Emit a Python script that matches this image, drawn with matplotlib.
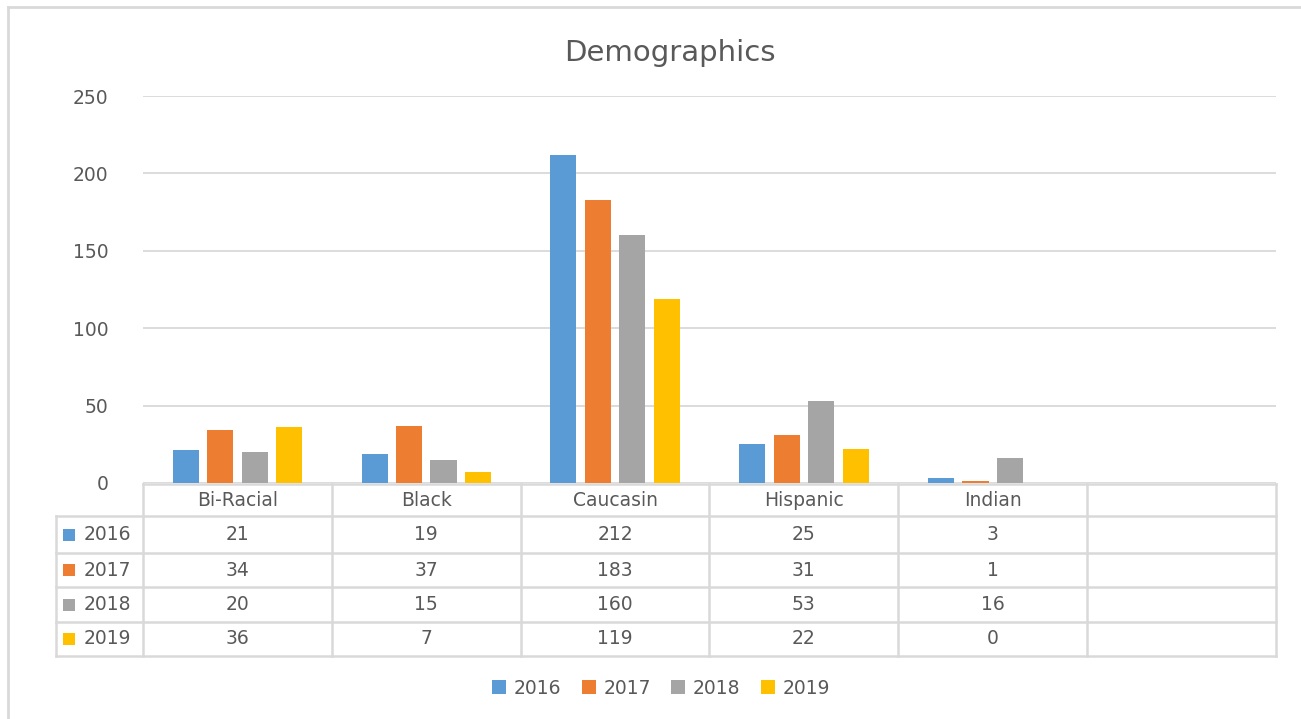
import matplotlib.pyplot as plt
import matplotlib.patches as patches
from matplotlib.lines import Line2D
from matplotlib.transforms import blended_transform_factory
import numpy as np

# Chart data
categories = ['Bi-Racial', 'Black', 'Caucasin', 'Hispanic', 'Indian', '']
years = ['2016', '2017', '2018', '2019']
values_2016 = [21, 19, 212, 25, 3]
values_2017 = [34, 37, 183, 31, 1]
values_2018 = [20, 15, 160, 53, 16]
values_2019 = [36, 7, 119, 22, 0]
y_ticks = [0, 50, 100, 150, 200, 250]

series = [values_2016, values_2017, values_2018, values_2019]
colors = ['#5B9BD5', '#ED7D31', '#A5A5A5', '#FFC000']
TEXT = '#595959'
GRID = '#D9D9D9'

W, H = 1301, 719
plt.rcParams['font.family'] = ['DejaVu Sans']

fig = plt.figure(figsize=(W / 100, H / 100), dpi=100)

def fx(px):
    return px / W

def fy(py):
    return 1 - py / H

# outer chart border (only left and top edges are inside the picture)
fig.add_artist(Line2D([fx(8), fx(8)], [0, fy(7)], transform=fig.transFigure,
                      color=GRID, linewidth=2))
fig.add_artist(Line2D([fx(8), 1], [fy(7), fy(7)], transform=fig.transFigure,
                      color=GRID, linewidth=2))

ax = fig.add_axes([fx(143), fy(483), fx(1276) - fx(143), fy(96) - fy(483)])
n_cat = len(categories)
x = np.arange(n_cat)
step = 0.1825
bar_w = 0.138
for i, vals in enumerate(series):
    ax.bar(x[:len(vals)] + (i - 1.5) * step, vals, width=bar_w,
           color=colors[i], zorder=3)

ax.set_xlim(-0.5, n_cat - 0.5)
ax.set_ylim(0, 250)
ax.set_yticks(y_ticks)
ax.set_yticklabels([str(t) for t in y_ticks], fontsize=13.5, color=TEXT)
ax.tick_params(axis='y', length=0, pad=25)
ax.set_xticks([])
ax.grid(axis='y', color=GRID, linewidth=1.3, zorder=0)
for s in ax.spines.values():
    s.set_visible(False)

fig.text(fx(670), fy(53), 'Demographics', ha='center', va='center',
         fontsize=21, color=TEXT)

# data table under the axis
tr = blended_transform_factory(ax.transData, fig.transFigure)
row_lines = [484, 516, 553, 587, 622, 656]
lw = 1.8
x_left = -0.5 + (56 - 143) / (1133 / n_cat)

# horizontal lines
ax.plot([-0.5, n_cat - 0.5], [fy(row_lines[0])] * 2, transform=tr,
        color=GRID, lw=lw, clip_on=False)
for py in row_lines[1:]:
    ax.plot([x_left, n_cat - 0.5], [fy(py)] * 2, transform=tr,
            color=GRID, lw=lw, clip_on=False)
# vertical lines
for b in np.arange(n_cat + 1) - 0.5:
    ax.plot([b, b], [fy(row_lines[0]), fy(row_lines[-1])], transform=tr,
            color=GRID, lw=lw, clip_on=False)
ax.plot([x_left, x_left], [fy(row_lines[1]), fy(row_lines[-1])], transform=tr,
        color=GRID, lw=lw, clip_on=False)

# header row
for j, cat in enumerate(categories):
    ax.text(j, fy(500), cat, transform=tr, ha='center', va='center',
            fontsize=13.5, color=TEXT)

# data rows
for i, vals in enumerate(series):
    yc = fy((row_lines[i + 1] + row_lines[i + 2]) / 2)
    fig.patches.append(patches.Rectangle((fx(63), yc - 6 / H), 12 / W, 12 / H,
                                         transform=fig.transFigure,
                                         facecolor=colors[i], edgecolor='none'))
    fig.text(fx(84), yc, years[i], ha='left', va='center',
             fontsize=13.5, color=TEXT)
    for j, v in enumerate(vals):
        ax.text(j, yc, str(v), transform=tr, ha='center', va='center',
                fontsize=13.5, color=TEXT)

# legend
handles = [patches.Patch(facecolor=c, edgecolor='none') for c in colors]
fig.legend(handles, years, loc='center', bbox_to_anchor=(fx(661), fy(688)),
           ncol=4, frameon=False, fontsize=13.5, labelcolor=TEXT,
           handlelength=0.75, handleheight=0.75, handletextpad=0.4,
           columnspacing=1.1)

fig.savefig('out.png', dpi=100)
